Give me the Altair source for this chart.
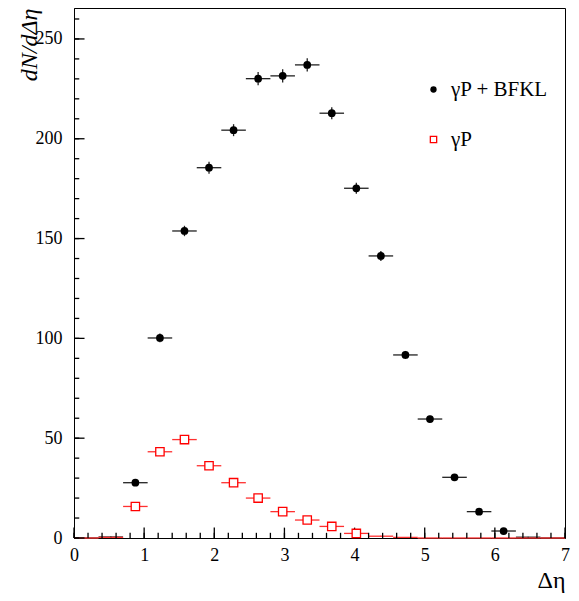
import altair as alt
import pandas as pd

# bin edges / centres (delta eta)
bin_lo = [0.0, 0.35, 0.7, 1.05, 1.4, 1.75, 2.1, 2.45, 2.8, 3.15, 3.5, 3.85, 4.2, 4.55, 4.9, 5.25, 5.6, 5.95, 6.3, 6.65]
bin_hi = [0.35, 0.7, 1.05, 1.4, 1.75, 2.1, 2.45, 2.8, 3.15, 3.5, 3.85, 4.2, 4.55, 4.9, 5.25, 5.6, 5.95, 6.3, 6.65, 7.0]
bin_mid = [0.175, 0.525, 0.875, 1.225, 1.575, 1.925, 2.275, 2.625, 2.975, 3.325, 3.675, 4.025, 4.375, 4.725, 5.075, 5.425, 5.775, 6.125, 6.475, 6.825]

# gamma P + BFKL
bfkl_val = [0, 0.5, 27.7, 100.2, 153.8, 185.5, 204.3, 230.1, 231.5, 237.0, 212.8, 175.2, 141.3, 91.7, 59.6, 30.4, 13.2, 3.5, 0.4, 0]
bfkl_err = [0, 0.3, 1.5, 2.2, 2.6, 3.0, 3.0, 3.3, 3.3, 3.3, 3.0, 2.8, 2.5, 2.0, 1.6, 1.2, 0.8, 0.5, 0.2, 0]

# gamma P
gp_val = [0, 0.3, 15.8, 43.2, 49.3, 36.2, 27.7, 20.0, 13.2, 9.0, 5.8, 2.3, 0.9, 0.3, 0, 0, 0, 0, 0, 0]
gp_err = [0, 0.2, 1.0, 1.5, 1.6, 1.4, 1.2, 1.0, 0.8, 0.7, 0.5, 0.3, 0.2, 0.1, 0, 0, 0, 0, 0, 0]

series_names = ["γP + BFKL", "γP"]
bar_color = ["#222222", "#ff3030"]

x_major = [0, 1, 2, 3, 4, 5, 6, 7]
x_minor = [i / 5 for i in range(36)]
y_major = [0, 50, 100, 150, 200, 250]
y_minor = list(range(0, 270, 10))

rows = []
for name, vals, errs in [(series_names[0], bfkl_val, bfkl_err), (series_names[1], gp_val, gp_err)]:
    for lo, hi, m, v, e in zip(bin_lo, bin_hi, bin_mid, vals, errs):
        rows.append({"series": name, "lo": lo, "hi": hi, "mid": m, "val": v,
                     "ylo": v - e, "yhi": v + e})
df = pd.DataFrame(rows)

FONT = "Liberation Serif, DejaVu Serif, serif"
W, H = 491, 530

xscale = alt.Scale(domain=[0, 7], nice=False, zero=False)
yscale = alt.Scale(domain=[0, 265.5], nice=False)

xaxis = alt.Axis(
    values=x_major, format="d", ticks=False,
    labelPadding=8, labelOverlap=False, labelFlush=False,
    labelFont=FONT, labelFontSize=18, labelColor="black",
    title="Δη", titleX=W, titleY=42, titleAlign="right", titleBaseline="middle",
    titleFont=FONT, titleFontSize=24, titleFontWeight="normal", titleColor="black",
    grid=False, domainColor="black",
)
yaxis = alt.Axis(
    values=y_major, format="d", ticks=False,
    labelPadding=12, labelOverlap=False, labelFlush=False,
    labelFont=FONT, labelFontSize=18, labelColor="black",
    title="dN/dΔη", titleX=-45, titleY=0, titleAlign="right", titleBaseline="middle",
    titleAngle=270,
    titleFont=FONT, titleFontSize=24, titleFontStyle="italic", titleFontWeight="normal",
    titleColor="black",
    grid=False, domainColor="black",
)

color_scale = alt.Scale(domain=series_names, range=bar_color)

base = alt.Chart(df)

hbars = base.mark_rule(strokeWidth=1.3).encode(
    x=alt.X("lo:Q", scale=xscale, axis=xaxis),
    x2="hi:Q",
    y=alt.Y("val:Q", scale=yscale, axis=yaxis),
    color=alt.Color("series:N", scale=color_scale, legend=None),
)

vbars = base.mark_rule(strokeWidth=1.3).encode(
    x=alt.X("mid:Q", scale=xscale, axis=xaxis),
    y=alt.Y("ylo:Q", scale=yscale, axis=yaxis),
    y2="yhi:Q",
    color=alt.Color("series:N", scale=color_scale, legend=None),
)

# inward tick marks along the bottom and left frame (lengths in data units)
def x_ticks_layer(vals, length):
    return alt.Chart(pd.DataFrame({"t": vals})).transform_calculate(
        y0="0", y1=str(length)).mark_rule(color="black", strokeWidth=1.3).encode(
        x=alt.X("t:Q", scale=xscale, axis=xaxis),
        y=alt.Y("y0:Q", scale=yscale, axis=yaxis), y2="y1:Q")

def y_ticks_layer(vals, length):
    return alt.Chart(pd.DataFrame({"t": vals})).transform_calculate(
        x0="0", x1=str(length)).mark_rule(color="black", strokeWidth=1.3).encode(
        y=alt.Y("t:Q", scale=yscale, axis=yaxis),
        x=alt.X("x0:Q", scale=xscale, axis=xaxis), x2="x1:Q")

xt_minor = x_ticks_layer(x_minor, 2.6)
xt_major = x_ticks_layer(x_major, 5.2)
yt_minor = y_ticks_layer(y_minor, 0.075)
yt_major = y_ticks_layer(y_major, 0.15)

def series_legend(ly, fill, stroke):
    return alt.Legend(
        title=None, orient="none", legendX=349, legendY=ly,
        labelFont=FONT, labelFontSize=21, labelColor="black",
        symbolSize=40, symbolFillColor=fill, symbolStrokeColor=stroke,
        symbolStrokeWidth=1.3, labelOffset=7,
    )

pts_bfkl = base.transform_filter(
    alt.datum.series == series_names[0]).transform_filter("datum.val > 1.5").mark_point(
    filled=True, color="black", opacity=1, size=60).encode(
    x=alt.X("mid:Q", scale=xscale, axis=xaxis),
    y=alt.Y("val:Q", scale=yscale, axis=yaxis),
    shape=alt.Shape("series:N", scale=alt.Scale(domain=[series_names[0]], range=["circle"]),
                    legend=series_legend(71, "black", "black")),
)

gp_base = base.transform_filter(
    alt.datum.series == series_names[1]).transform_filter("datum.val > 1.5")

# white interior of the open squares
pts_gp_fill = gp_base.mark_square(color="white", opacity=1, size=70).encode(
    x=alt.X("mid:Q", scale=xscale, axis=xaxis),
    y=alt.Y("val:Q", scale=yscale, axis=yaxis),
)

# red outline of the open squares (carries the legend entry)
pts_gp = gp_base.mark_point(filled=False, color="red", opacity=1, size=70, strokeWidth=1.3).encode(
    x=alt.X("mid:Q", scale=xscale, axis=xaxis),
    y=alt.Y("val:Q", scale=yscale, axis=yaxis),
    shape=alt.Shape("series:N", scale=alt.Scale(domain=[series_names[1]], range=["square"]),
                    legend=series_legend(121, "white", "red")),
)

chart = alt.layer(hbars, vbars, xt_minor, xt_major, yt_minor, yt_major,
                  pts_bfkl, pts_gp_fill, pts_gp).resolve_scale(
    shape="independent"
).resolve_legend(
    shape="independent"
).properties(
    width=W, height=H,
    autosize=alt.AutoSizeParams(type="none"),
    padding={"left": 66, "top": 0, "right": 6, "bottom": 55},
).configure(
    font=FONT
).configure_view(
    stroke="black", strokeWidth=1
)

chart.save("out.html", embed_options={"renderer": "svg", "actions": False})
